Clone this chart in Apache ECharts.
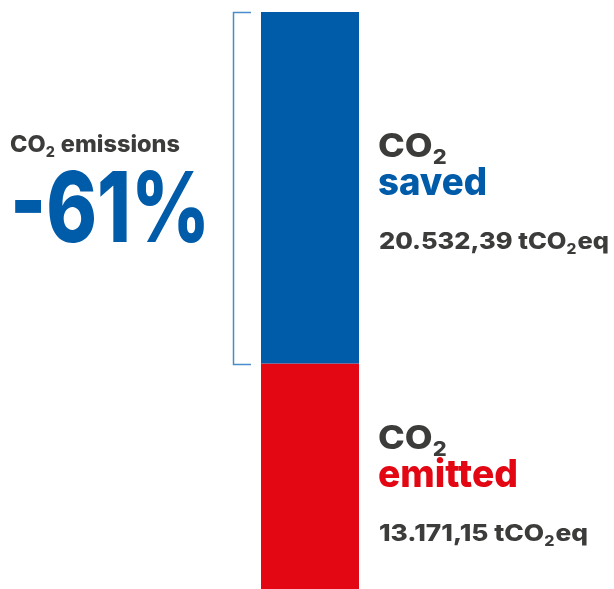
<!DOCTYPE html>
<html>
<head>
<meta charset="utf-8">
<script src="https://cdn.jsdelivr.net/npm/echarts@6/dist/echarts.min.js"></script>
<style>
  html, body { margin: 0; padding: 0; background: #fff; }
  #chart { width: 614px; height: 589px; }
</style>
</head>
<body>
<div id="chart"></div>
<script>
// values
var categories = ['CO2'];
var savedValues = [20532.39];
var emittedValues = [13171.15];
var savedLabel = '20.532,39';
var emittedLabel = '13.171,15';
var reduction = '-61%';

var BLUE = '#005BA9';
var RED = '#E30613';
var GREY = '#3C3C3B';
var FAMILY = 'Inter';

var total = savedValues[0] + emittedValues[0];

var myChart = echarts.init(document.getElementById('chart'));

var option = {
  animation: false,
  grid: { left: 261, width: 98, top: 12, bottom: 0 },
  xAxis: { type: 'category', data: categories, show: false },
  yAxis: { type: 'value', min: 0, max: total, show: false },
  series: [
    {
      name: 'emitted',
      type: 'bar',
      stack: 'co2',
      barWidth: '100%',
      data: emittedValues,
      itemStyle: { color: RED }
    },
    {
      name: 'saved',
      type: 'bar',
      stack: 'co2',
      barWidth: '100%',
      data: savedValues,
      itemStyle: { color: BLUE }
    }
  ]
};
myChart.setOption(option);

// text helper: segments laid out on a baseline, squeezed to a target width
var ctx = document.createElement('canvas').getContext('2d');
function font(size) { return '800 ' + size + 'px ' + FAMILY; }

function textLine(x, baseline, width, size, segs) {
  var children = [];
  var cx = 0;
  segs.forEach(function (s) {
    var fs = s.sub ? Math.round(size * 0.6) : size;
    ctx.font = font(fs);
    ctx.textBaseline = 'middle';
    var m = ctx.measureText(s.t);
    var midToBase = ctx.measureText('H').actualBoundingBoxDescent;
    var base = s.sub ? size * 0.22 : 0;
    children.push({
      type: 'text',
      x: cx,
      y: base - midToBase,
      style: {
        text: s.t,
        fill: s.c,
        font: font(fs),
        align: 'left',
        verticalAlign: 'middle'
      }
    });
    cx += m.width + (s.sub ? size * 0.04 : 0);
  });
  return {
    type: 'group',
    x: x,
    y: baseline,
    scaleX: width / cx,
    children: children
  };
}

// bracket follows the saved block
var yTop = myChart.convertToPixel({ yAxisIndex: 0 }, total);
var yMid = myChart.convertToPixel({ yAxisIndex: 0 }, emittedValues[0]);

myChart.setOption({
  graphic: [
    {
      type: 'polyline',
      shape: { points: [[251, yTop + 0.5], [233.5, yTop + 0.5], [233.5, yMid + 1], [251, yMid + 1]] },
      style: { stroke: '#4a8bc9', lineWidth: 1.5, fill: null }
    },
    // left side
    textLine(10, 152, 170, 23, [
      { t: 'CO', c: GREY }, { t: '2', sub: true, c: GREY }, { t: ' emissions', c: GREY }
    ]),
    textLine(10, 242, 200, 98, [{ t: reduction, c: BLUE }]),
    // saved
    textLine(378, 157, 70, 33, [{ t: 'CO', c: GREY }, { t: '2', sub: true, c: GREY }]),
    textLine(378, 195, 109, 38, [{ t: 'saved', c: BLUE }]),
    textLine(379, 249, 230, 23, [
      { t: savedLabel + ' tCO', c: GREY }, { t: '2', sub: true, c: GREY }, { t: 'eq', c: GREY }
    ]),
    // emitted
    textLine(378, 449, 70, 33, [{ t: 'CO', c: GREY }, { t: '2', sub: true, c: GREY }]),
    textLine(378, 487, 140, 38, [{ t: 'emitted', c: RED }]),
    textLine(379, 541, 209, 23, [
      { t: emittedLabel + ' tCO', c: GREY }, { t: '2', sub: true, c: GREY }, { t: 'eq', c: GREY }
    ])
  ]
});
</script>
</body>
</html>
